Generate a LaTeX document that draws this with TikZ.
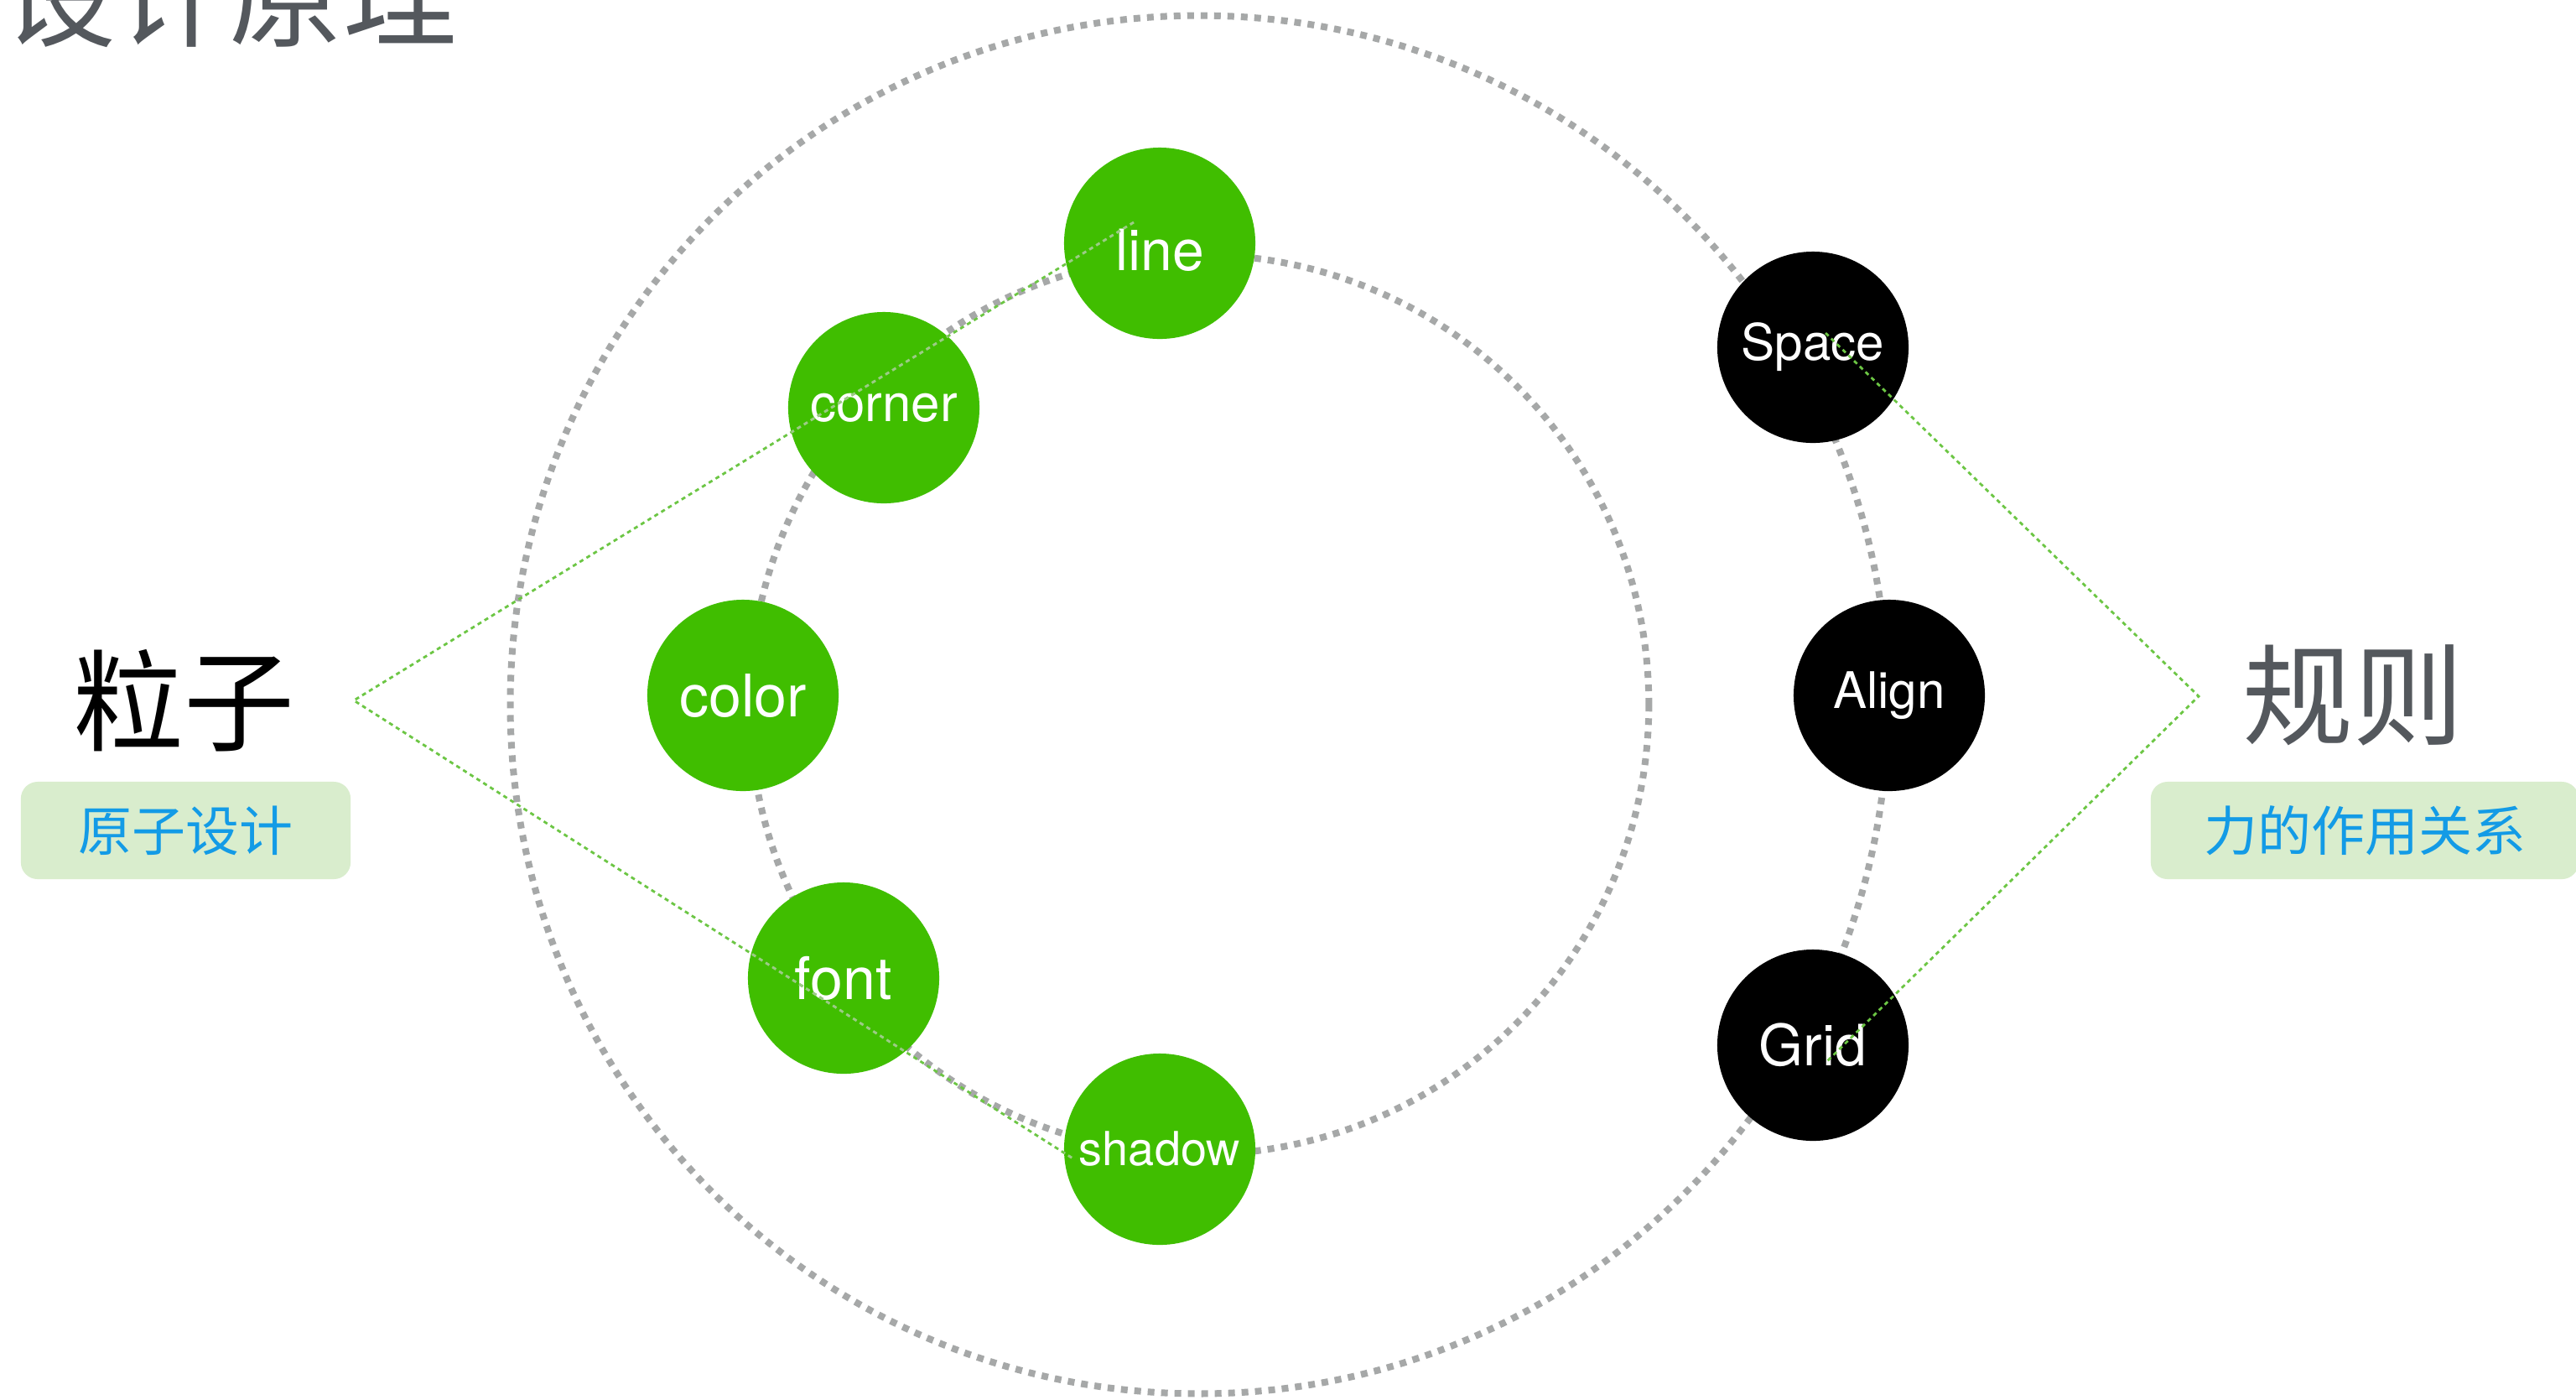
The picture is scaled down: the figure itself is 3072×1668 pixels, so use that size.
\documentclass[tikz,border=0pt]{standalone}
\usepackage{fontspec}
\setmainfont{TeX Gyre Heros}
\newfontfamily\cjk{Noto Sans CJK SC}
\definecolor{ballgreen}{HTML}{40BE00}
\definecolor{dotgray}{HTML}{A6A8A8}
\definecolor{linegreen}{HTML}{6CC644}
\definecolor{innergreen}{HTML}{9CCB86}
\definecolor{boxfill}{HTML}{D9EDCD}
\definecolor{labelblue}{HTML}{139BE6}
\definecolor{titlegray}{HTML}{54585D}
\begin{document}
\begin{tikzpicture}[x=0.01cm,y=-0.01cm,
  ball/.style={circle, fill=ballgreen, text=white, minimum size=2.28cm, inner sep=0pt},
  blackball/.style={ball, fill=black},
  graydot/.style={draw=dotgray, line width=0.08cm, dash pattern=on 0.08cm off 0.08cm},
  greendash/.style={draw=linegreen, line width=0.028cm, dash pattern=on 0.05cm off 0.045cm},
  bigcjk/.style={font=\cjk\fontsize{37.5pt}{40pt}\selectfont, inner sep=0pt},
  labelbox/.style={rounded corners=0.2cm, fill=boxfill, text=labelblue, inner sep=0pt,
     minimum height=1.16cm, font=\cjk\fontsize{18.2pt}{20pt}\selectfont}
]
\useasboundingbox (0,0) rectangle (3072,1668);
\fill[white] (0,0) rectangle (3072,1668);

% title
\node[bigcjk, text=titlegray, font=\cjk\fontsize{38.5pt}{40pt}\selectfont] (title) at (274,-6) {设计原理};

% dotted rings
\coordinate (ctr) at (1430,840);
\draw[graydot] (ctr) circle[radius=8.21cm];
\draw[graydot] (ctr) circle[radius=5.36cm];

% particles
\node[ball, font=\fontsize{19.3pt}{21pt}\selectfont, text depth=0pt] (line) at (1383,290) {\raisebox{-0.16cm}{line}};
\node[ball, font=\fontsize{17.6pt}{20pt}\selectfont] (corner) at (1054,486) {corner};
\node[ball, font=\fontsize{19.9pt}{22pt}\selectfont] (color) at (886,829) {\raisebox{-0.05cm}{color}};
\node[ball, font=\fontsize{19.9pt}{22pt}\selectfont] (font) at (1006,1166) {font};
\node[ball, font=\fontsize{15.9pt}{18pt}\selectfont] (shadow) at (1383,1370) {shadow};

% rules
\node[blackball, font=\fontsize{17.1pt}{19pt}\selectfont] (space) at (2162,414) {\raisebox{-0.06cm}{Space}};
\node[blackball, font=\fontsize{17.1pt}{19pt}\selectfont] (align) at (2253,829) {Align};
\node[blackball, font=\fontsize{19.3pt}{21pt}\selectfont] (grid) at (2162,1246) {Grid};

% labels
\node[bigcjk, text=black] (lizi) at (219,835) {粒子};
\node[labelbox, minimum width=3.93cm] (lbox) at (221.5,990) {原子设计};
\node[bigcjk, text=titlegray] (guize) at (2806,829) {规则};
\node[labelbox, minimum width=5.10cm] (rbox) at (2820,990) {力的作用关系};

% connector points
\coordinate (L) at (422,835);
\coordinate (Lup) at (1352,265);
\coordinate (Ldn) at (1281,1382);
\coordinate (R) at (2622,830);
\coordinate (Rup) at (2177,397);
\coordinate (Rdn) at (2177,1267);

\draw[greendash] (Lup) -- (L) -- (Ldn);
\draw[greendash] (Rup) -- (R) -- (Rdn);

\begin{scope}
  \clip (line.center) circle[radius=1.14cm] (corner.center) circle[radius=1.14cm]
        (font.center) circle[radius=1.14cm] (shadow.center) circle[radius=1.14cm];
  \draw[greendash, draw=innergreen] (Lup) -- (L) -- (Ldn);
\end{scope}
\end{tikzpicture}
\end{document}
